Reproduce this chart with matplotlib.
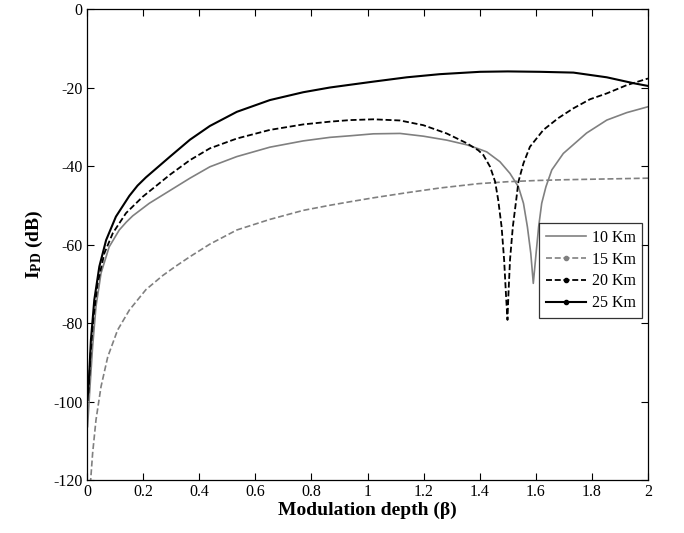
import matplotlib
matplotlib.use("Agg")
import matplotlib.pyplot as plt
from matplotlib.lines import Line2D

plt.rcParams['font.family'] = ['Liberation Serif', 'DejaVu Serif']
plt.rcParams['mathtext.fontset'] = 'custom'
plt.rcParams['mathtext.rm'] = 'Liberation Serif'
plt.rcParams['mathtext.bf'] = 'Liberation Serif:bold'
plt.rcParams['mathtext.it'] = 'Liberation Serif:italic'
plt.rcParams['axes.unicode_minus'] = False
plt.rcParams['lines.scale_dashes'] = False

labels = ['10 Km', '15 Km', '20 Km', '25 Km']

# 10 Km (gray solid)
b10 = [0.002, 0.01, 0.02, 0.032, 0.05, 0.079, 0.115, 0.14, 0.163, 0.222, 0.29, 0.367, 0.438, 0.534,
       0.652, 0.771, 0.866, 0.938, 1.021, 1.116, 1.199, 1.282, 1.354, 1.395, 1.425, 1.472,
       1.508, 1.538, 1.556, 1.57, 1.582, 1.591, 1.601, 1.61, 1.621, 1.636, 1.657, 1.698,
       1.781, 1.853, 1.924, 2.0]
d10 = [-106.4, -97, -86, -75.8, -67.3, -60.6, -56.3, -54.3, -52.7, -49.5, -46.5, -43.1, -40.2, -37.6,
       -35.2, -33.6, -32.7, -32.3, -31.8, -31.7, -32.4, -33.4, -34.6, -35.6, -36.4, -38.9,
       -41.9, -45.3, -49.5, -55.5, -62.2, -69.9, -62.2, -55.5, -49.5, -45.3, -41.0, -36.8,
       -31.6, -28.3, -26.4, -24.9]

# 15 Km (gray dashed)
b15 = [0.012, 0.02, 0.032, 0.05, 0.074, 0.109, 0.151, 0.21, 0.27, 0.317, 0.367, 0.438, 0.534,
       0.652, 0.771, 0.866, 0.938, 1.021, 1.14, 1.258, 1.395, 1.5, 1.6, 1.7, 1.85, 2.0]
d15 = [-121, -113.2, -104.7, -96.2, -88.6, -81.8, -76.7, -71.5, -67.9, -65.5, -63.1, -59.9, -56.3,
       -53.6, -51.3, -50, -49.1, -48.1, -46.8, -45.6, -44.5, -44.0, -43.7, -43.5, -43.3, -43.1]

# 20 Km (black dashed)
b20 = [0.005, 0.012, 0.022, 0.038, 0.062, 0.092, 0.139, 0.199, 0.258, 0.296, 0.367, 0.438,
       0.534, 0.652, 0.771, 0.866, 0.938, 1.021, 1.116, 1.199, 1.282, 1.354, 1.395, 1.413,
       1.437, 1.455, 1.466, 1.478, 1.487, 1.494, 1.499, 1.502, 1.508, 1.518, 1.53, 1.538,
       1.556, 1.579, 1.627, 1.68, 1.734, 1.793, 1.853, 1.924, 2.0]
d20 = [-97.9, -88.6, -79.2, -69.9, -62.2, -57.1, -52, -47.8, -44.4, -42.2, -38.5, -35.5,
       -33, -30.8, -29.4, -28.7, -28.3, -28.1, -28.4, -29.6, -31.7, -34.2, -36.0, -37.2,
       -40.2, -44, -48.7, -55.5, -63.9, -73.3, -79.2, -73.3, -63.9, -55.5, -48.7, -44,
       -39.3, -35.1, -30.8, -27.8, -25.3, -23, -21.5, -19.4, -17.7]

# 25 Km (black solid)
b25 = [0.002, 0.008, 0.014, 0.026, 0.044, 0.068, 0.103, 0.151, 0.18, 0.21, 0.296, 0.367,
       0.438, 0.534, 0.652, 0.771, 0.866, 0.938, 1.021, 1.14, 1.258, 1.401, 1.5, 1.615,
       1.734, 1.853, 1.948, 2.0]
d25 = [-99.6, -92.8, -84.3, -74.1, -65.6, -58.9, -52.9, -47.6, -45.0, -42.9, -37.6, -33.3,
       -29.8, -26.2, -23.2, -21.2, -20, -19.3, -18.5, -17.4, -16.6, -16, -15.9, -16,
       -16.2, -17.4, -18.9, -19.6]

xticks = [0, 0.2, 0.4, 0.6, 0.8, 1, 1.2, 1.4, 1.6, 1.8, 2]
xticklabels = ['0', '0.2', '0.4', '0.6', '0.8', '1', '1.2', '1.4', '1.6', '1.8', '2']
yticks = [0, -20, -40, -60, -80, -100, -120]

gray = '#808080'
dash = (0, (4.3, 2.0))

fig = plt.figure(figsize=(6.84, 5.33), dpi=100)
ax = fig.add_axes([0.1272, 0.0994, 0.8202, 0.8837])

ax.plot(b10, d10, color=gray, lw=1.2, ls='-')
ax.plot(b15, d15, color=gray, lw=1.2, ls=dash)
ax.plot(b20, d20, color='black', lw=1.3, ls=dash)
ax.plot(b25, d25, color='black', lw=1.5, ls='-')

ax.set_xlim(0, 2)
ax.set_ylim(-120, 0)
ax.set_xticks(xticks)
ax.set_xticklabels(xticklabels)
ax.set_yticks(yticks)
ax.set_yticklabels([str(v) for v in yticks])
ax.tick_params(direction='in', top=True, right=True, length=5, width=0.8, labelsize=11.5, pad=3)
for s in ax.spines.values():
    s.set_linewidth(0.9)

ax.set_xlabel('Modulation depth (β)', fontsize=14, fontweight='bold', labelpad=1)
ax.set_ylabel(r'$\mathbf{I_{PD}}$ (dB)', fontsize=14, fontweight='bold', labelpad=6)

handles = [
    Line2D([], [], color=gray, lw=1.2, ls='-'),
    Line2D([], [], color=gray, lw=1.2, ls=dash, marker='.', markersize=6),
    Line2D([], [], color='black', lw=1.3, ls=dash, marker='.', markersize=6),
    Line2D([], [], color='black', lw=1.5, ls='-', marker='.', markersize=6),
]
leg = ax.legend(handles, labels, loc='lower right', bbox_to_anchor=(0.99, 0.345),
                fontsize=11.5, frameon=True, fancybox=False, edgecolor='black',
                handlelength=2.5, handletextpad=0.4, labelspacing=0.36, borderpad=0.4,
                borderaxespad=0)
leg.get_frame().set_linewidth(0.9)

fig.savefig('out.png', dpi=100)
